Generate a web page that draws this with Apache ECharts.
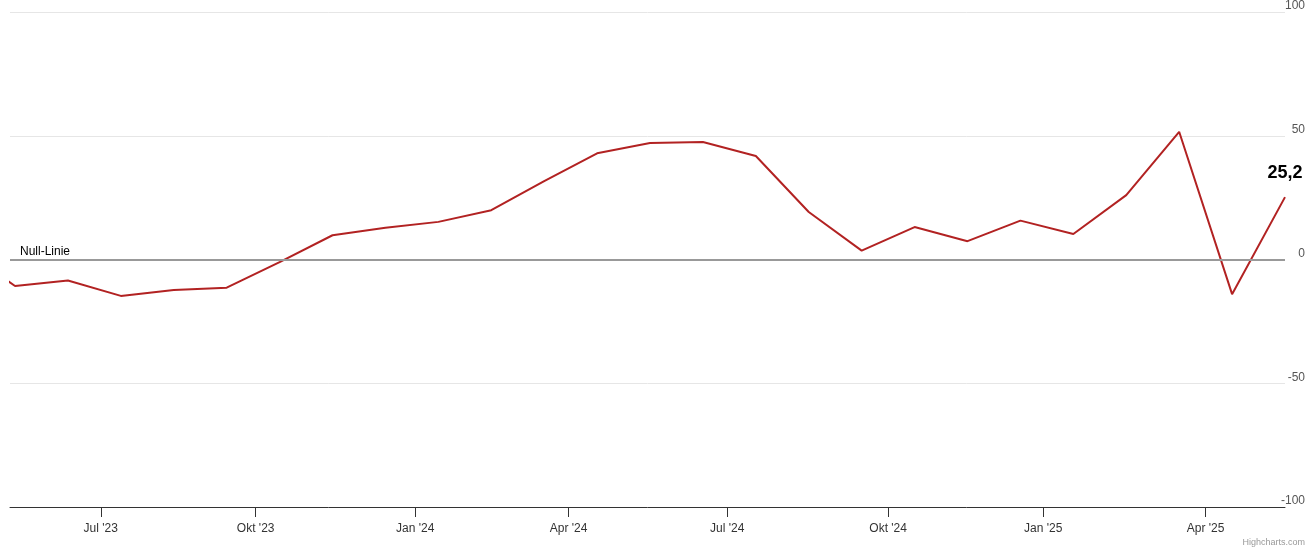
<!DOCTYPE html>
<html>
<head>
<meta charset="utf-8">
<script src="https://cdn.jsdelivr.net/npm/echarts@6/dist/echarts.min.js"></script>
<style>
html,body{margin:0;padding:0;background:#fff;}
#c{width:1316px;height:551px;}
</style>
</head>
<body>
<div id="c"></div>
<script>
// Monthly survey values (Apr 2023 .. May 2025), evenly spaced (ordinal axis)
const months = ['Apr 23','Mai 23','Jun 23','Jul 23','Aug 23','Sep 23','Okt 23','Nov 23','Dez 23',
  'Jan 24','Feb 24','Mär 24','Apr 24','Mai 24','Jun 24','Jul 24','Aug 24','Sep 24','Okt 24','Nov 24','Dez 24',
  'Jan 25','Feb 25','Mär 25','Apr 25','Mai 25'];
const values = [4.1,-10.7,-8.5,-14.7,-12.3,-11.4,-1.1,9.8,12.8,
  15.2,19.9,31.7,42.9,47.1,47.5,41.8,19.2,3.6,13.1,7.4,15.7,
  10.3,26.0,51.6,-14.0,25.2];
// Tick labels and their positions on the ordinal (index) scale
const tickLabels = ["Jul '23","Okt '23","Jan '24","Apr '24","Jul '24","Okt '24","Jan '25","Apr '25"];
const tickPos = [2.62, 5.548, 8.564, 11.46, 14.46, 17.50, 20.43, 23.50];
const yTicks = [-100, -50, 0, 50, 100];

const FONT = '"Liberation Sans", Arial, Helvetica, sans-serif';
const chart = echarts.init(document.getElementById('c'), null, {renderer:'canvas'});
const lastIdx = values.length - 1;
const seriesData = values.map((v,i) => [i,v]);

chart.setOption({
  animation:false,
  backgroundColor:'#fff',
  textStyle:{fontFamily:FONT},
  grid:{left:10, right:31, top:9, bottom:44, containLabel:false},
  xAxis:{
    type:'value', min:0.905, max:lastIdx,
    splitLine:{show:false},
    axisLine:{show:true, onZero:false, lineStyle:{color:'#333', width:1}},
    axisTick:{show:true, length:10, customValues:tickPos, lineStyle:{color:'#333'}},
    axisLabel:{show:true, customValues:tickPos, margin:16, fontSize:12, color:'#333', fontFamily:FONT,
      formatter: v => { const k = tickPos.findIndex(t => Math.abs(t - v) < 1e-6); return k >= 0 ? tickLabels[k] : ''; }}
  },
  yAxis:{
    type:'value', position:'right', min:yTicks[0], max:yTicks[yTicks.length-1], interval:50,
    axisLine:{show:false}, axisTick:{show:false},
    splitLine:{show:true, lineStyle:{color:'#e6e6e6', width:1}},
    axisLabel:{margin:20, align:'right', verticalAlign:'bottom', fontSize:12, color:'#555', fontFamily:FONT,
      formatter: v => String(v)}
  },
  series:[{
    type:'line',
    data:seriesData,
    showSymbol:false,
    symbol:'none',
    clip:true,
    lineStyle:{color:'#b22222', width:2},
    itemStyle:{color:'#b22222'},
    emphasis:{disabled:true},
    z:3,
    markLine:{
      silent:true, symbol:'none', animation:false,
      lineStyle:{color:'#999', width:2, type:'solid'},
      label:{show:true, position:'insideStartTop', formatter:'Null-Linie', color:'#000', fontSize:12, fontFamily:FONT, distance:[10,2]},
      data:[{yAxis:0}]
    },
    markPoint:{
      silent:true, animation:false,
      symbol:'circle', symbolSize:2,
      itemStyle:{color:'rgba(0,0,0,0)'},
      label:{show:true, position:'top', distance:14, fontSize:18, fontWeight:'bold', color:'#000', fontFamily:FONT,
        formatter: p => String(values[lastIdx]).replace('.', ',')},
      data:[{coord:[lastIdx, values[lastIdx]]}]
    }
  }],
  graphic:[{
    type:'text', right:11, bottom:4,
    style:{text:'Highcharts.com', fontSize:9, fill:'#999', fontFamily:FONT}
  }]
});
</script>
</body>
</html>
